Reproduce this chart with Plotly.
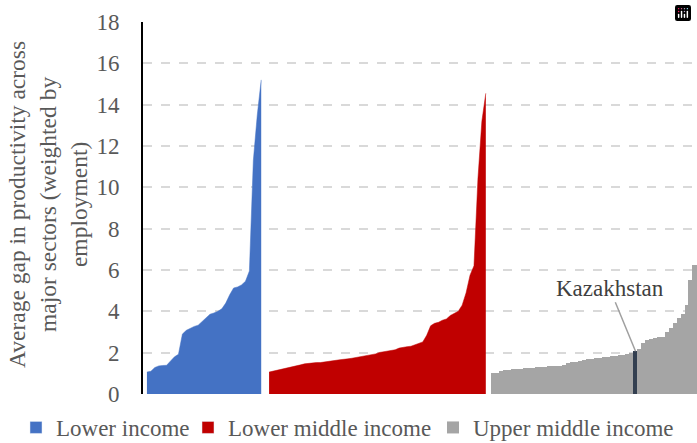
import plotly.graph_objects as go

# values, sorted within each income group
lower_income = [1.06, 1.10, 1.28, 1.36, 1.38, 1.39, 1.60, 1.80, 1.92, 2.90,
                3.08, 3.18, 3.27, 3.33, 3.52, 3.70, 3.86, 3.92, 4.00, 4.12,
                4.40, 4.80, 5.13, 5.18, 5.28, 5.45, 5.95, 11.3, 13.5, 15.2]

lower_middle_income = [1.06, 1.10, 1.15, 1.21, 1.25, 1.28, 1.31, 1.36, 1.41, 1.46,
                       1.49, 1.52, 1.52, 1.52, 1.54, 1.56, 1.59, 1.63, 1.66, 1.67,
                       1.70, 1.73, 1.76, 1.79, 1.84, 1.87, 1.88, 1.94, 2.01, 2.05,
                       2.09, 2.10, 2.14, 2.22, 2.27, 2.29, 2.31, 2.38, 2.47, 2.52,
                       2.84, 3.30, 3.42, 3.47, 3.57, 3.63, 3.80, 3.90, 4.00, 4.30,
                       4.90, 5.75, 6.20, 10.4, 13.2, 14.55]

upper_middle_income = [1.02, 1.04, 1.12, 1.14, 1.16, 1.19, 1.21, 1.23, 1.25, 1.26,
                       1.28, 1.30, 1.31, 1.33, 1.34, 1.35, 1.36, 1.37, 1.39, 1.52,
                       1.54, 1.57, 1.60, 1.64, 1.68, 1.70, 1.72, 1.75, 1.78, 1.80,
                       1.83, 1.86, 1.88, 1.91, 1.94, 1.97, 2.07, 2.20, 2.45, 2.60,
                       2.65, 2.72, 2.74, 2.76, 3.00, 3.20, 3.45, 3.70, 3.85, 4.30,
                       5.50, 6.25]

group_names = ["Lower income", "Lower middle income", "Upper middle income"]
highlight_country = "Kazakhstan"
highlight_index = 36  # position inside upper_middle_income

BLUE = "#4472C4"
RED = "#C00000"
GREY = "#A5A5A5"
NAVY = "#333F50"
TEXT = "#595959"
TICK_FONT = "Liberation Serif"
LEGEND_FONT = "Times New Roman"
LABEL_FONT = "serif"

# one blank category between groups
x_low = list(range(len(lower_income)))
start_mid = len(lower_income) + 1
x_mid = list(range(start_mid, start_mid + len(lower_middle_income)))
start_up = start_mid + len(lower_middle_income) + 1
x_up = list(range(start_up, start_up + len(upper_middle_income)))

up_colors = [NAVY if i == highlight_index else GREY for i in range(len(upper_middle_income))]

fig = go.Figure()
fig.add_trace(go.Scatter(
    x=x_low, y=lower_income, mode="lines", showlegend=False,
    line=dict(color=BLUE, width=0.5), fill="tozeroy", fillcolor=BLUE,
))
fig.add_trace(go.Scatter(
    x=x_mid, y=lower_middle_income, mode="lines", showlegend=False,
    line=dict(color=RED, width=0.5), fill="tozeroy", fillcolor=RED,
))
# slight overlap (width > 1) hides the seams between neighbouring bars
fig.add_trace(go.Bar(
    x=x_up, y=upper_middle_income, name=group_names[2], width=1.12,
    marker=dict(color=up_colors, line=dict(width=0)), legend="legend3",
))

# square legend keys for the two area series
fig.add_trace(go.Bar(x=[None], y=[None], name=group_names[0], marker_color=BLUE, legend="legend"))
fig.add_trace(go.Bar(x=[None], y=[None], name=group_names[1], marker_color=RED, legend="legend2"))

fig.add_annotation(
    x=x_up[highlight_index], y=upper_middle_income[highlight_index],
    text=highlight_country, showarrow=True, arrowhead=0,
    arrowcolor="#A0A0A0", arrowwidth=1.5, ax=-26, ay=-63,
    font=dict(family=LABEL_FONT, size=23, color="#404040"),
)

# y axis title, three lines, rotated
fig.add_annotation(
    xref="paper", yref="paper", x=-0.172, y=0.51,
    xanchor="center", yanchor="middle", textangle=-90, showarrow=False,
    text="Average gap in productivity across<br>major sectors (weighted by<br>employment)",
    font=dict(family=LEGEND_FONT, size=23.5, color=TEXT),
)

leg = dict(orientation="h", xref="container", yref="container",
           xanchor="left", y=0.035, yanchor="middle",
           font=dict(family=LEGEND_FONT, size=23, color=TEXT),
           bgcolor="rgba(0,0,0,0)")

fig.update_layout(
    width=697, height=443,
    margin=dict(l=143, r=0, t=22, b=49, autoexpand=False),
    plot_bgcolor="white", paper_bgcolor="white",
    bargap=0, showlegend=True,
    legend=dict(leg, x=16 / 697),
    legend2=dict(leg, x=188 / 697),
    legend3=dict(leg, x=433 / 697),
    # keep the modebar but make it invisible
    modebar=dict(bgcolor="rgba(0,0,0,0)", color="rgba(0,0,0,0)",
                 activecolor="rgba(0,0,0,0)"),
)
fig.update_xaxes(
    range=[-1.0, 139.6], showticklabels=False, showgrid=False,
    zeroline=False, showline=False,
)
fig.update_yaxes(
    range=[0, 18], dtick=2, showgrid=True, griddash="dash",
    gridcolor="#D9D9D9", gridwidth=1.5, zeroline=False,
    showline=True, linecolor="black", linewidth=2,
    ticklabelstandoff=17, automargin=False,
    tickfont=dict(family=TICK_FONT, size=23, color=TEXT),
)

fig.write_html("out.html", post_script="document.body.style.margin = '0';")
